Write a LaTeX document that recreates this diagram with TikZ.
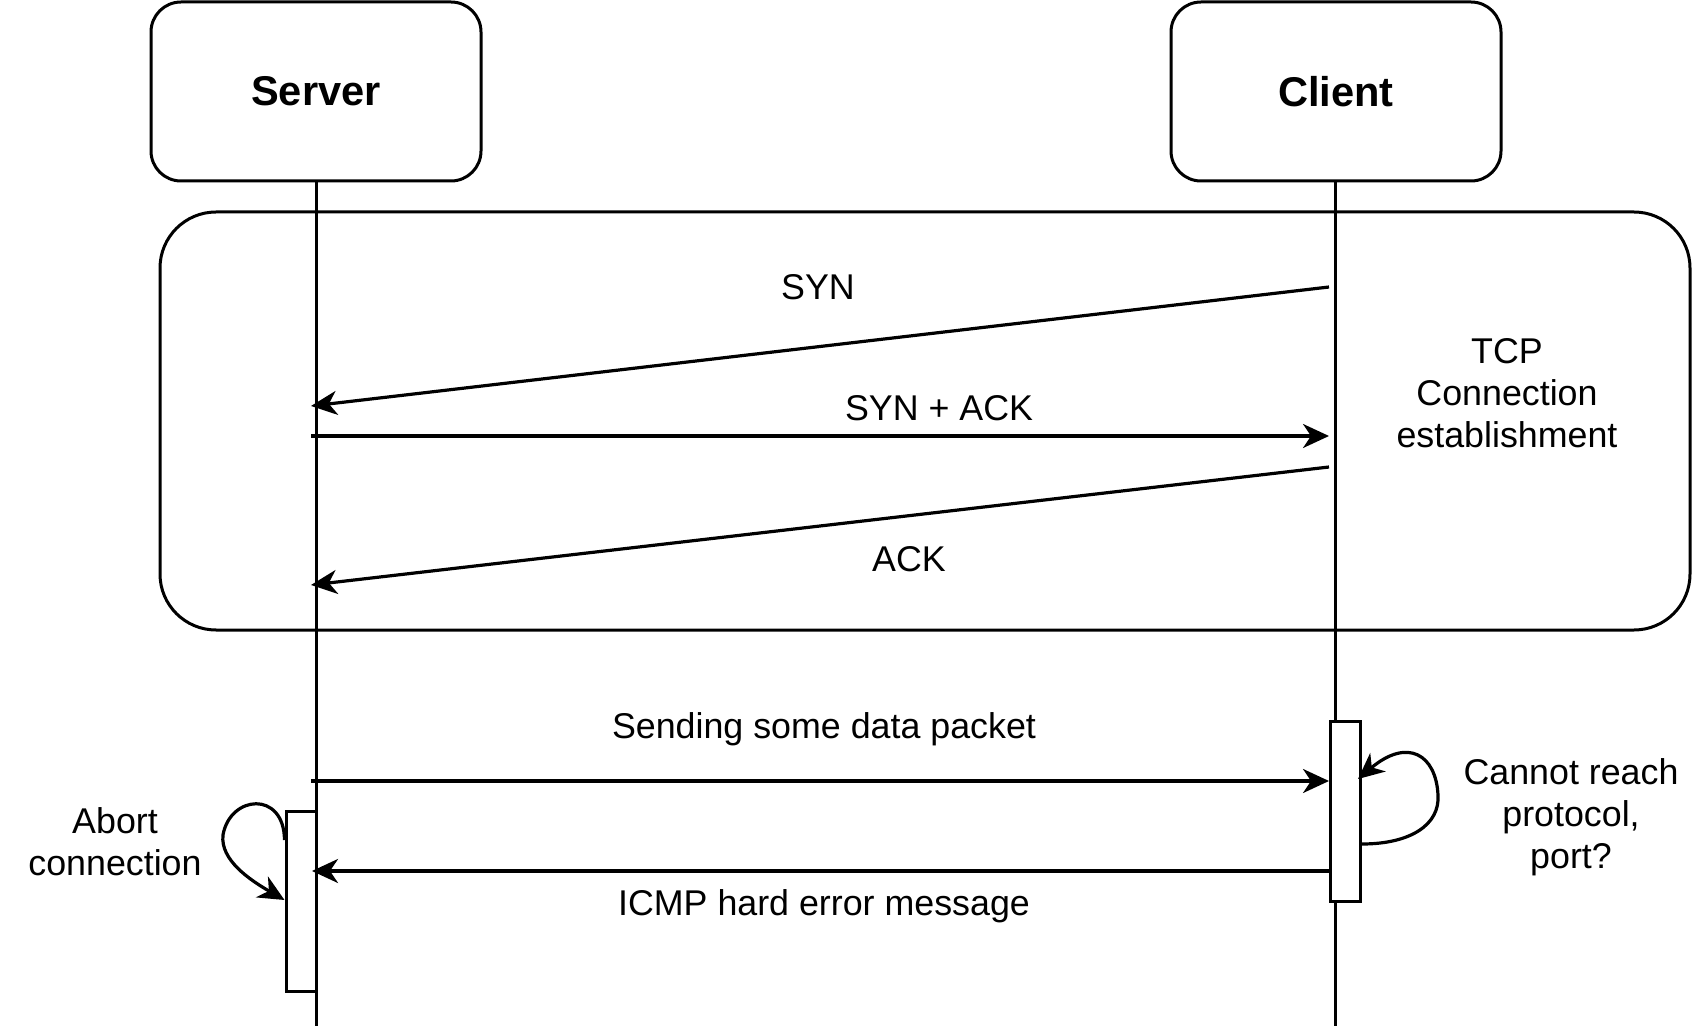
\documentclass[tikz,border=0pt]{standalone}
\usepackage{fontspec}
\setmainfont{Liberation Sans}
\usetikzlibrary{arrows.meta}
\begin{document}
\begin{tikzpicture}[x=0.5pt,y=-0.5pt,
  actor/.style={draw, line width=1.5pt, rounded corners=15pt, minimum width=165pt, minimum height=89.5pt, inner sep=0pt, font=\fontsize{20.8}{25}\selectfont\bfseries},
  phase/.style={draw, line width=1.5pt, rounded corners=28pt, minimum width=765pt, minimum height=209pt, inner sep=0pt},
  act/.style={draw, fill=white, line width=1.5pt, minimum width=15pt, minimum height=90pt, inner sep=0pt},
  life/.style={line width=1.5pt},
  msg/.style={line width=1.6pt, -{Stealth[length=13pt,width=12pt,inset=4pt]}},
  lbl/.style={font=\fontsize{17.9}{21}\selectfont, inner sep=0pt},
  mlbl/.style={lbl, align=center}]
\useasboundingbox (0,0) rectangle (1692,1026);
% frames
\node[phase] (tcp) at (925,421) {};
\node[actor] (srv) at (316,91.5) {Server};
\node[actor] (cli) at (1336,91.5) {Client};
% lifelines
\coordinate (srvend) at (316,1026);
\coordinate (cliend) at (1335,1026);
\draw[life] (srv.south -| srvend) -- (srvend);
\draw[life] (cli.south -| cliend) -- (cliend);
% activation boxes
\node[act] (sact) at (301,901) {};
\node[act] (cact) at (1345.5,811) {};
% handshake
\coordinate (syn1) at (1329,287);
\coordinate (syn2) at (311,406);
\coordinate (sa1) at (311,436);
\coordinate (sa2) at (1329,436);
\coordinate (ack1) at (1329,467);
\coordinate (ack2) at (311,585);
\draw[msg] (syn1) -- (syn2);
\draw[msg] (sa1) -- (sa2);
\draw[msg] (ack1) -- (ack2);
\node[lbl, anchor=base] (synl) at (818,300) {SYN};
\node[lbl, anchor=base] (sal) at (939,421) {SYN + ACK};
\node[lbl, anchor=base] (ackl) at (909,571) {ACK};
\node[mlbl] (tcpl) at (1507,393) {TCP\\Connection\\establishment};
% data and error
\coordinate (d1) at (311,781);
\draw[msg] (d1) -- (d1 -| cact.west);
\coordinate (e1) at (1330,871);
\coordinate (e2) at (312,871);
\draw[msg] (e1) -- (e2);
\node[lbl, anchor=base] (dl) at (824,738) {Sending some data packet};
\node[lbl, anchor=base] (el) at (824,915) {ICMP hard error message};
% self loops
\draw[msg] (cact.east |- 0,844) .. controls (1410,844) and (1440,825) .. (1438,795)
  .. controls (1436,755) and (1408,737) .. (1358,779);
\draw[msg] (sact.west |- 0,840) .. controls (284,790) and (230,795) .. (223,835)
  .. controls (220,860) and (250,880) .. (sact.west |- 0,900);
\node[mlbl] (cl) at (1571,817) {Cannot reach\\protocol,\\port?};
\node[mlbl] (al) at (115,842) {Abort\\connection};
\end{tikzpicture}
\end{document}
